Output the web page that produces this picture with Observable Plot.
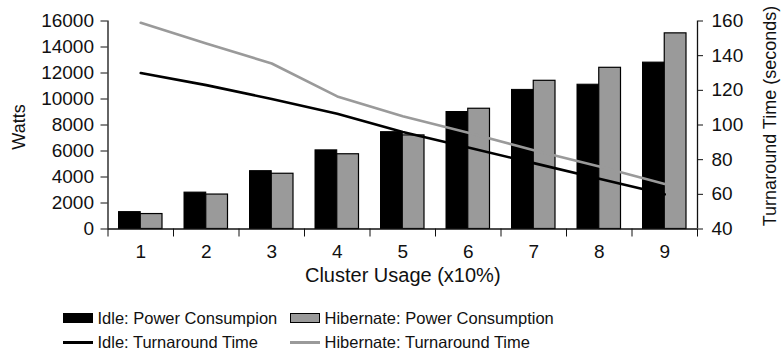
<!DOCTYPE html>
<html>
<head>
<meta charset="utf-8">
<script src="https://cdn.jsdelivr.net/npm/d3@7"></script>
<script src="https://cdn.jsdelivr.net/npm/@observablehq/plot@0.6"></script>
<style>
  html, body { margin: 0; padding: 0; background: #fff; }
  body { width: 782px; height: 356px; overflow: hidden; font-family: "Liberation Sans", Arial, sans-serif; color: #111; }
  #legend { position: relative; height: 50px; font-size: 16.5px; }
  .item { position: absolute; display: flex; align-items: center; height: 24px; white-space: nowrap; }
  .sw { width: 30px; margin-right: 5px; box-sizing: border-box; }
  .box { height: 10px; border: 1px solid #000; }
  .ln { height: 2.5px; }
</style>
</head>
<body>
<div id="chart"></div>
<div id="legend"></div>
<script>
// Cluster usage levels (x10%)
const usage = [1, 2, 3, 4, 5, 6, 7, 8, 9];
// Power consumption, watts
const idlePower = [1300, 2800, 4450, 6050, 7450, 9000, 10700, 11100, 12800];
const hibernatePower = [1150, 2650, 4250, 5750, 7200, 9250, 11400, 12400, 15050];
// Turnaround time, seconds
const idleTurnaround = [130, 123, 115, 106.5, 96, 87, 78, 69, 60];
const hibernateTurnaround = [159, 147, 135.5, 116.5, 105, 95.5, 85.5, 76, 66];

// Axis ticks
const wattTicks = [0, 2000, 4000, 6000, 8000, 10000, 12000, 14000, 16000];
const secondTicks = [40, 60, 80, 100, 120, 140, 160];

const wattDomain = [0, 16000];
const secDomain = [40, 160];
// map seconds onto the watts scale so both share one y scale
const toW = s => (s - secDomain[0]) / (secDomain[1] - secDomain[0]) * (wattDomain[1] - wattDomain[0]) + wattDomain[0];
const fromW = w => (w - wattDomain[0]) / (wattDomain[1] - wattDomain[0]) * (secDomain[1] - secDomain[0]) + secDomain[0];

const rows = usage.map((u, i) => ({
  u,
  idleP: idlePower[i],
  hibP: hibernatePower[i],
  idleT: toW(idleTurnaround[i]),
  hibT: toW(hibernateTurnaround[i])
}));

// category boundaries for the bottom tick marks
const edges = [...usage.map(u => u - 0.5), usage[usage.length - 1] + 0.5];

const GRAY = "#9a9a9a";
const INK = "#111";

const chart = Plot.plot({
  width: 782,
  height: 306,
  marginLeft: 107.5,
  marginRight: 85,
  marginTop: 20.5,
  marginBottom: 77.5,
  style: { fontFamily: "'Liberation Sans', Arial, sans-serif", color: INK, background: "#fff" },
  x: { type: "linear", domain: [0.5, 9.5] },
  y: { domain: wattDomain },
  marks: [
    Plot.rectY(rows, { x1: d => d.u - 0.5, x2: d => d.u, y: "idleP", fill: "#000", stroke: "#000", strokeWidth: 1, insetLeft: 11, insetRight: 0 }),
    Plot.rectY(rows, { x1: d => d.u, x2: d => d.u + 0.5, y: "hibP", fill: GRAY, stroke: "#000", strokeWidth: 1.2, insetLeft: 0, insetRight: 11 }),
    Plot.line(rows, { x: "u", y: "idleT", stroke: "#000", strokeWidth: 2.6 }),
    Plot.line(rows, { x: "u", y: "hibT", stroke: GRAY, strokeWidth: 2.6 }),
    // axis lines
    Plot.ruleX([0.5], { stroke: INK, strokeWidth: 1.3 }),
    Plot.ruleX([9.5], { stroke: INK, strokeWidth: 1.3 }),
    Plot.ruleY([0], { stroke: INK, strokeWidth: 1.3 }),
    // left axis
    Plot.axisY(wattTicks, { anchor: "left", tickSize: 7, tickPadding: 7, tickFormat: d3.format("d"), fontSize: 19, label: null, stroke: INK }),
    // right axis (seconds)
    Plot.axisY(secondTicks.map(toW), { anchor: "right", tickSize: 5, tickPadding: 9, tickFormat: w => String(Math.round(fromW(w))), fontSize: 19, label: null, stroke: INK }),
    // bottom axis: tick marks at category edges, labels at centers
    Plot.axisX(edges, { anchor: "bottom", tickSize: 8, tickFormat: () => "", label: null, stroke: INK }),
    Plot.axisX(usage, { anchor: "bottom", tickSize: 0, tickPadding: 15.5, tickFormat: d3.format("d"), fontSize: 19, label: null }),
    // axis titles
    Plot.text(["Cluster Usage (x10%)"], { frameAnchor: "bottom", lineAnchor: "middle", textAnchor: "middle", dy: 47, fontSize: 20, fill: INK }),
    Plot.text(["Watts"], { frameAnchor: "left", textAnchor: "middle", lineAnchor: "middle", dx: -88.5, dy: 2, rotate: -90, fontSize: 18, fill: INK }),
    Plot.text(["Turnaround Time (seconds)"], { frameAnchor: "right", textAnchor: "middle", lineAnchor: "middle", dx: 73, dy: -9, rotate: -90, fontSize: 18, fill: INK })
  ]
});
document.getElementById("chart").appendChild(chart);

// Legend
const legendItems = [
  { label: "Idle: Power Consumpion", kind: "box", color: "#000", x: 62.5, row: 0 },
  { label: "Hibernate: Power Consumption", kind: "box", color: GRAY, x: 289.5, row: 0 },
  { label: "Idle: Turnaround Time", kind: "ln", color: "#000", x: 62.5, row: 1 },
  { label: "Hibernate: Turnaround Time", kind: "ln", color: GRAY, x: 289.5, row: 1 }
];
const legend = document.getElementById("legend");
for (const it of legendItems) {
  const item = document.createElement("div");
  item.className = "item";
  item.style.left = it.x + "px";
  item.style.top = (it.row * 24.5) + "px";
  const sw = document.createElement("div");
  sw.className = "sw " + it.kind;
  sw.style.background = it.color;
  const tx = document.createElement("span");
  tx.textContent = it.label;
  item.appendChild(sw);
  item.appendChild(tx);
  legend.appendChild(item);
}
</script>
</body>
</html>
